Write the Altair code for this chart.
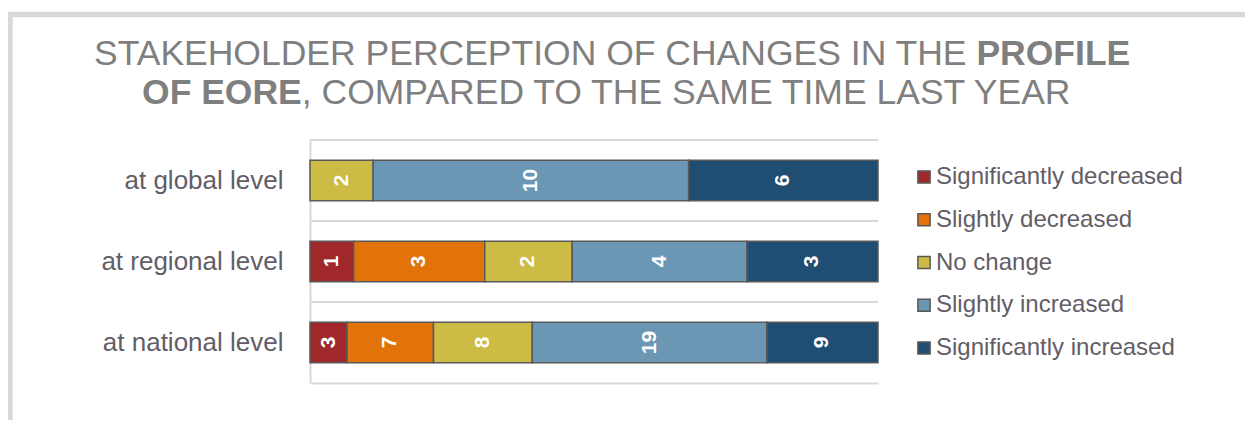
import altair as alt
import pandas as pd

# ---- data ----
levels = ["at global level", "at regional level", "at national level"]
categories = ["Significantly decreased", "Slightly decreased", "No change",
              "Slightly increased", "Significantly increased"]
global_vals = [0, 0, 2, 10, 6]
regional_vals = [1, 3, 2, 4, 3]
national_vals = [3, 7, 8, 19, 9]
colors = ["#a0282b", "#e2730a", "#ccbb45", "#6b97b4", "#1f4e72"]

title_line1_normal = "STAKEHOLDER PERCEPTION OF CHANGES IN THE"
title_line1_bold = "PROFILE"
title_line2_bold = "OF EORE"
title_line2_normal = ", COMPARED TO THE SAME TIME LAST YEAR"

rows = []
for lvl, vals in zip(levels, [global_vals, regional_vals, national_vals]):
    for k, (cat, v) in enumerate(zip(categories, vals)):
        rows.append({"level": lvl, "category": cat, "k": k, "value": v})
df = pd.DataFrame(rows)

FONT = "Liberation Sans"
LABEL_COLOR = "#625d66"
TITLE_COLOR = "#7f7f7f"
GRID = "#d9d9d9"
PLOT_H = 243
STEP = PLOT_H / 3

base = (
    alt.Chart(df)
    .transform_filter("datum.value > 0")
    .transform_joinaggregate(total="sum(value)", groupby=["level"])
    .transform_window(cum="sum(value)", sort=[alt.SortField("k")],
                      groupby=["level"], frame=[None, 0])
    .transform_calculate(
        x1="(datum.cum - datum.value) / datum.total",
        x2="datum.cum / datum.total",
        xm="(datum.cum - datum.value / 2) / datum.total",
        label="toString(datum.value)",
    )
)

yscale = alt.Scale(paddingInner=0.5, paddingOuter=0.25)
yaxis = alt.Axis(
    grid=False, domainColor=GRID, domainWidth=2, ticks=False,
    labelFont=FONT, labelFontSize=26, labelColor=LABEL_COLOR,
    labelPadding=27, labelLimit=400,
)
xscale = alt.Scale(domain=[0, 1], nice=False, zero=True)
xaxis = alt.Axis(labels=False, ticks=False, grid=False, domain=True,
                 domainColor=GRID, domainWidth=2, title=None)

# gridlines at the top edge of each category band
grid_rules = (
    alt.Chart(df)
    .transform_filter("datum.k == 0")
    .mark_rule(color=GRID, strokeWidth=2, yOffset=-STEP / 2)
    .encode(
        y=alt.Y("level:N", sort=levels, scale=yscale, axis=yaxis, title=None),
    )
)

bars = base.mark_bar(stroke="#595959", strokeWidth=1.5).encode(
    x=alt.X("x1:Q", scale=xscale, axis=xaxis),
    x2="x2:Q",
    y=alt.Y("level:N", sort=levels, title=None),
    color=alt.Color(
        "category:N",
        scale=alt.Scale(domain=categories, range=colors),
        legend=alt.Legend(
            title=None, orient="none", legendX=602, legendY=25,
            direction="vertical", symbolType="square", symbolSize=150,
            symbolStrokeColor="#595959", symbolStrokeWidth=1.5,
            labelFont=FONT, labelFontSize=24, labelColor=LABEL_COLOR,
            labelOffset=0, rowPadding=18.75, padding=0, labelLimit=400,
        ),
    ),
)

values_text = base.mark_text(
    angle=270, color="white", font=FONT, fontWeight="bold", fontSize=21,
    align="center", baseline="middle",
).encode(
    x=alt.X("xm:Q", scale=xscale),
    y=alt.Y("level:N", sort=levels),
    text="label:N",
)

one = alt.Data(values=[{}])
frame = alt.Chart(one).mark_rect(
    fill="transparent", stroke=GRID, strokeWidth=5.5
).encode(
    x=alt.value(-300), x2=alt.value(1100), y=alt.value(-125.5), y2=alt.value(500)
)

def title_part(text, x, y, align, weight):
    return alt.Chart(one).mark_text(
        text=text, font=FONT, fontSize=35.5, fontWeight=weight,
        color=TITLE_COLOR, align=align, baseline="alphabetic",
    ).encode(x=alt.value(x), y=alt.value(y))

t1a = title_part(title_line1_normal, 656.5, -75, "right", "normal")
t1b = title_part(title_line1_bold, 666.4, -75, "left", "bold")
t2a = title_part(title_line2_bold, -8.2, -36, "right", "bold")
t2b = title_part(title_line2_normal, -8.2, -36, "left", "normal")

chart = (
    alt.layer(frame, grid_rules, bars, values_text, t1a, t1b, t2a, t2b)
    .resolve_scale(x="shared", y="shared")
    .properties(
        width=568, height=PLOT_H,
        autosize=alt.AutoSizeParams(type="none"),
        padding={"left": 302, "top": 132, "right": 367, "bottom": 37},
        background="white",
    )
    .configure_view(stroke=None)
)

chart.save("out.html", embed_options={"renderer": "svg", "actions": False})
